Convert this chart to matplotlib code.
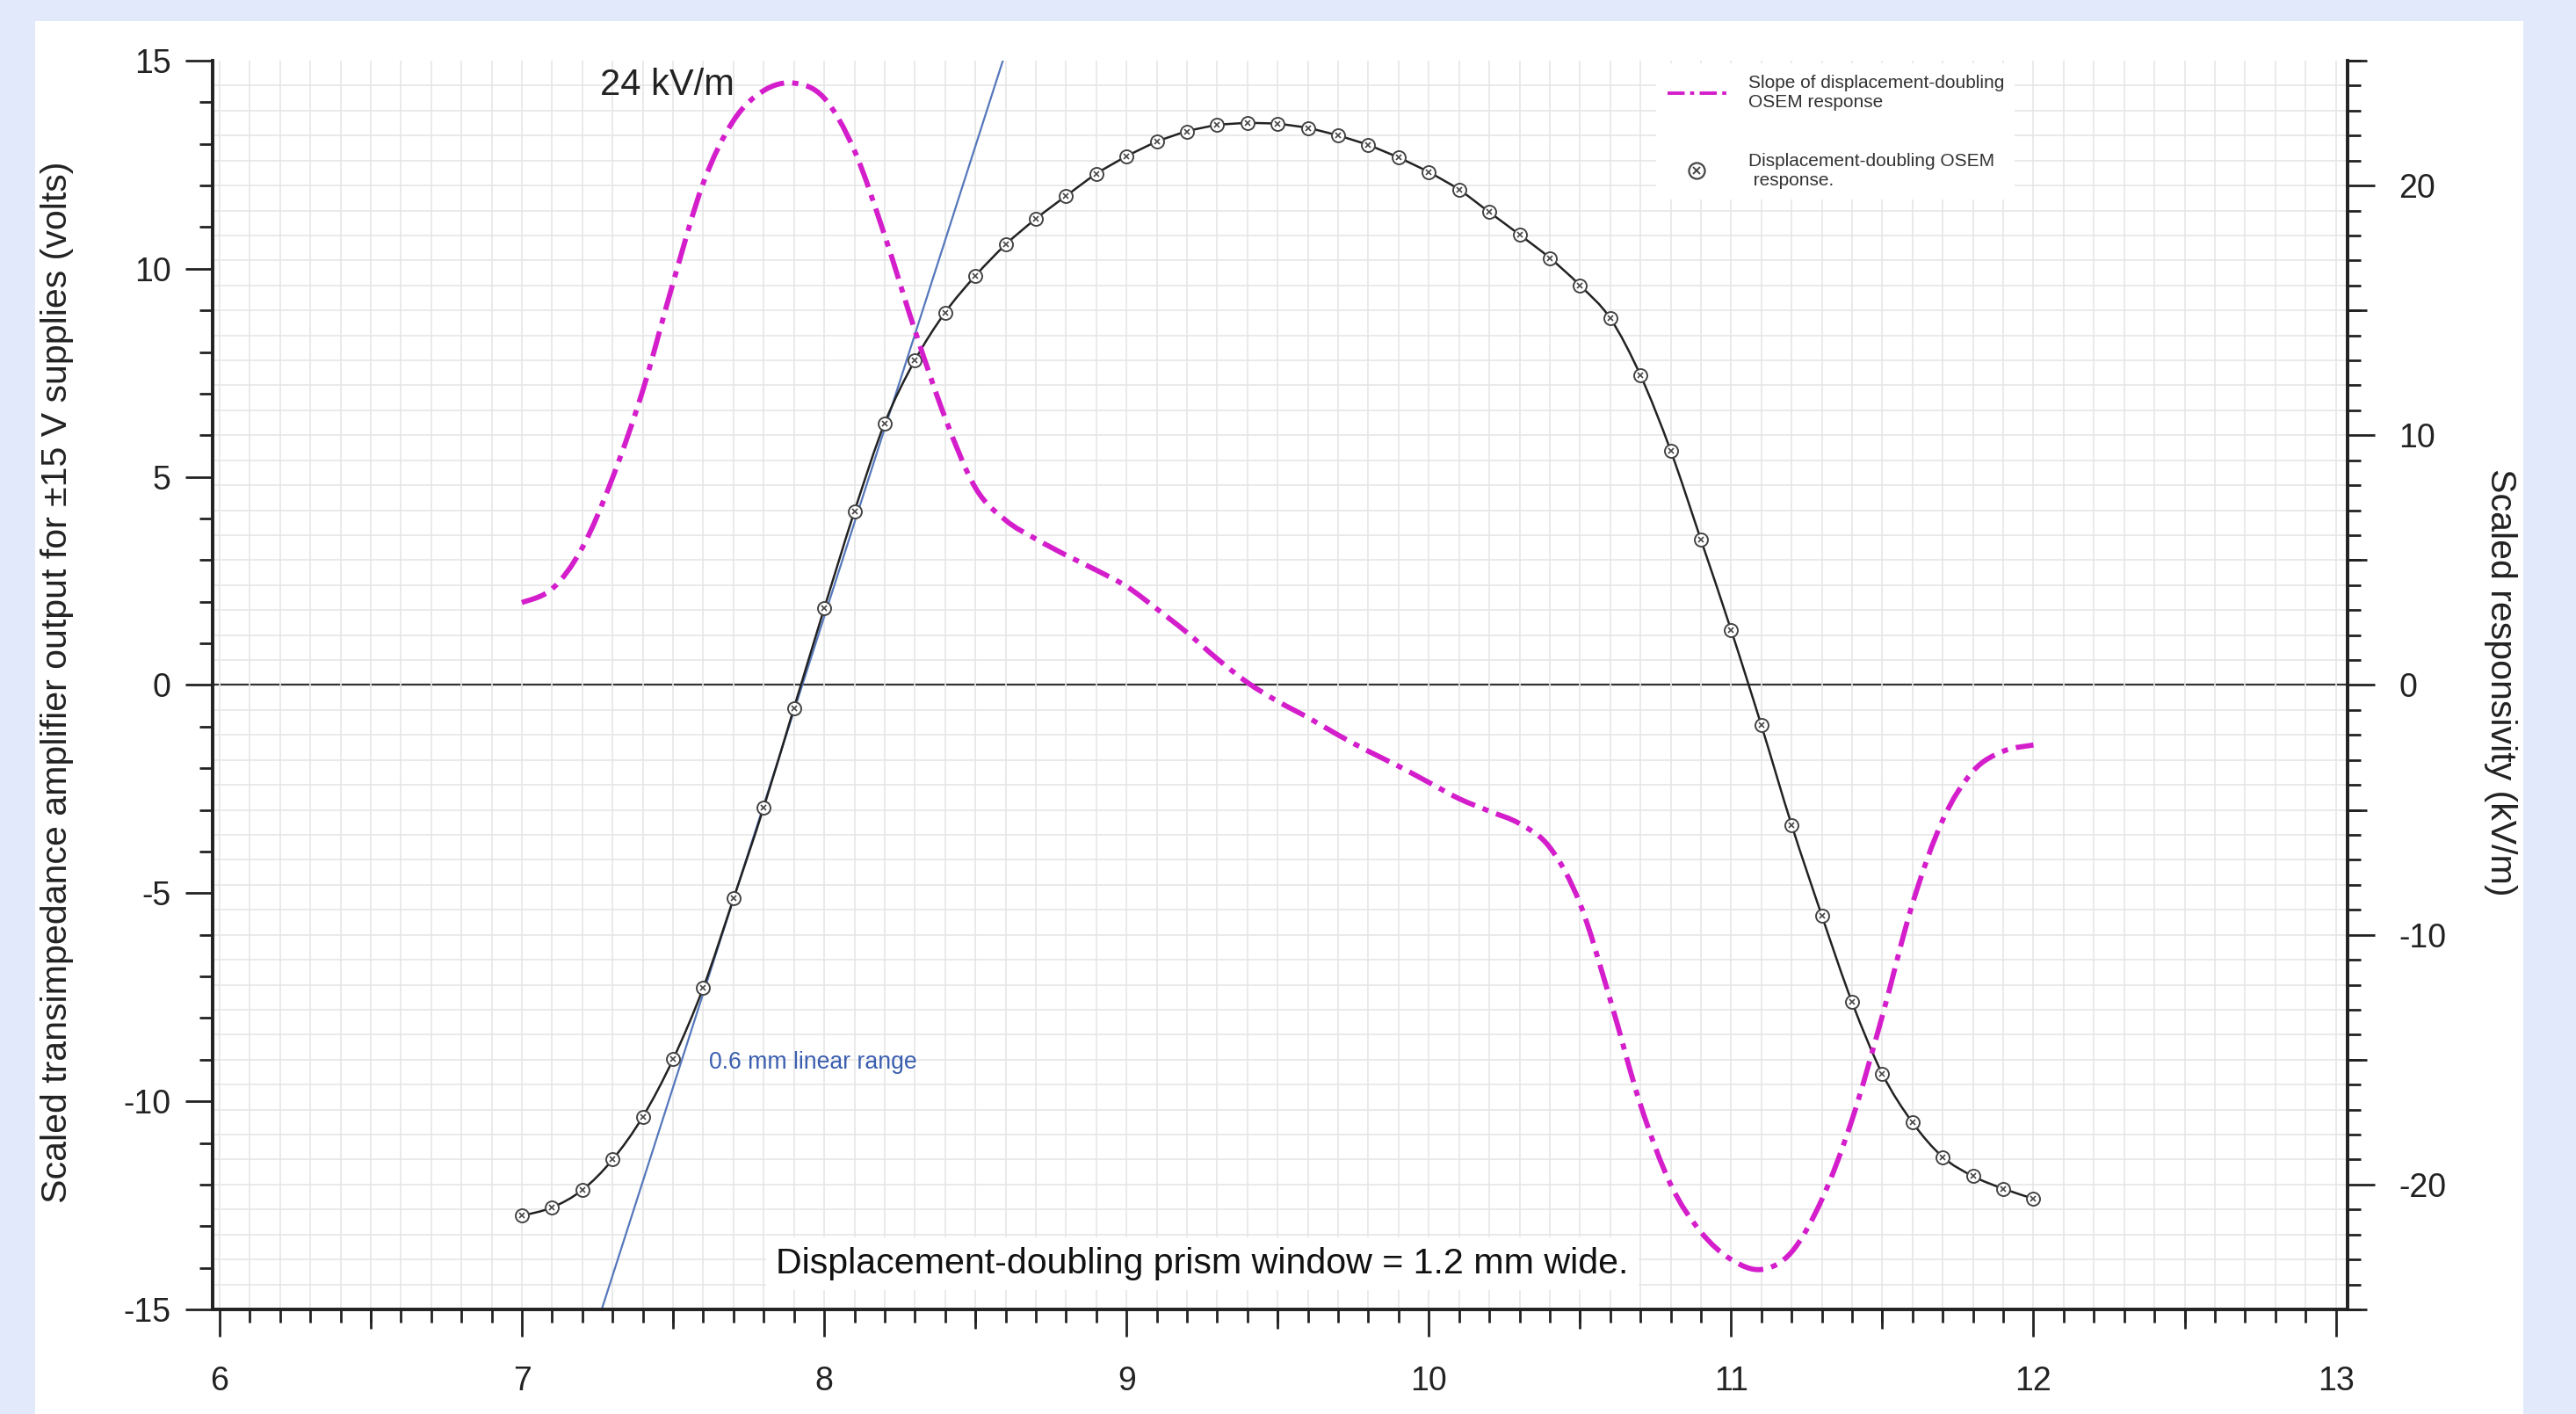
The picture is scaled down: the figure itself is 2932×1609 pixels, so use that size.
import numpy as np
import matplotlib
matplotlib.use("Agg")
import matplotlib.pyplot as plt
from matplotlib.ticker import MultipleLocator, FixedLocator, NullFormatter
from matplotlib.lines import Line2D
from matplotlib.patches import Rectangle, PathPatch
from matplotlib.path import Path
from matplotlib.legend_handler import HandlerTuple

plt.rcParams['font.family'] = ['Liberation Sans', 'DejaVu Sans']
plt.rcParams['axes.unicode_minus'] = False

# displacement (mm) for both series
disp_mm = [7.0, 7.1, 7.2, 7.3, 7.4, 7.5, 7.6, 7.7, 7.8, 7.9,
           8.0, 8.1, 8.2, 8.3, 8.4, 8.5, 8.6, 8.7, 8.8, 8.9,
           9.0, 9.1, 9.2, 9.3, 9.4, 9.5, 9.6, 9.7, 9.8, 9.9,
           10.0, 10.1, 10.2, 10.3, 10.4, 10.5, 10.6, 10.7, 10.8, 10.9,
           11.0, 11.1, 11.2, 11.3, 11.4, 11.5, 11.6, 11.7, 11.8, 11.9, 12.0]

# OSEM response (volts, left axis)
osem_volts = [-12.75, -12.55, -12.13, -11.4, -10.37, -8.99, -7.27, -5.13, -2.94, -0.55,
              1.84, 4.17, 6.29, 7.8, 8.95, 9.83, 10.58, 11.2, 11.75, 12.28,
              12.7, 13.05, 13.3, 13.45, 13.5, 13.48, 13.38, 13.2, 12.97, 12.67,
              12.32, 11.9, 11.36, 10.82, 10.26, 9.6, 8.81, 7.44, 5.63, 3.49,
              1.32, -0.97, -3.36, -5.54, -7.62, -9.34, -10.51, -11.34, -11.8, -12.1, -12.34]

# slope of the response (kV/m, right axis)
slope_kvm = [3.3, 3.85, 5.5, 8.3, 11.8, 16.1, 20.1, 22.6, 23.8, 24.1,
             23.5, 21.4, 18.0, 14.2, 10.7, 7.9, 6.6, 5.85, 5.2, 4.6,
             3.95, 3.05, 2.1, 1.05, 0.1, -0.65, -1.3, -2.0, -2.65, -3.25,
             -3.9, -4.55, -5.05, -5.55, -6.5, -8.75, -12.6, -16.8, -20.0, -21.9,
             -23.0, -23.4, -22.7, -20.6, -17.4, -13.25, -8.75, -5.4, -3.45, -2.65, -2.4]

# 24 kV/m tangent through the linear range
tangent_x = [7.264, 8.591]
tangent_y = [-15.0, 15.0]

x_labels = [6, 7, 8, 9, 10, 11, 12, 13]


def smooth_path(xs, ys):
    # draw through the points with Catmull-Rom style bezier segments
    p = np.column_stack([xs, ys]).astype(float)
    n = len(p)
    verts = [p[0]]
    codes = [Path.MOVETO]
    for i in range(n - 1):
        p0 = p[i - 1] if i > 0 else p[i]
        p1 = p[i]
        p2 = p[i + 1]
        p3 = p[i + 2] if i + 2 < n else p[i + 1]
        verts += [p1 + (p2 - p0) / 6.0, p2 - (p3 - p1) / 6.0, p2]
        codes += [Path.CURVE4] * 3
    return Path(verts, codes)


W, H, dpi = 2932, 1609, 200
fig = plt.figure(figsize=(W / dpi, H / dpi), dpi=dpi, facecolor='#E1E9FB')
# white panel
fig.patches.append(Rectangle((40 / W, 0), (2872 - 40) / W, 1 - 24 / H,
                             transform=fig.transFigure, facecolor='white',
                             edgecolor='none', zorder=-10))

ax = fig.add_axes([242 / W, 1 - 1490 / H, (2672 - 242) / W, (1490 - 69) / H])
ax.set_facecolor('none')
ax2 = ax.twinx()

ax.set_xlim(5.977, 13.039)
ax.set_ylim(-15, 15)
ax2.set_ylim(-25, 25)

gridc = '#e6e6e6'
# vertical grid every 0.1 mm
ax.xaxis.set_major_locator(FixedLocator(x_labels))
ax.xaxis.set_minor_locator(MultipleLocator(0.1))
ax.grid(axis='x', which='both', color=gridc, lw=0.6, zorder=0)
# horizontal grid every 1 kV/m (right axis)
for k in range(-24, 25):
    ax.axhline(k * 15 / 25, color=gridc, lw=0.6, zorder=0)
ax.axhline(0, color='#333333', lw=0.8, zorder=1)

ax.plot(tangent_x, tangent_y, color='#5577bb', lw=0.8, zorder=2)
ax.add_patch(PathPatch(smooth_path(disp_mm, osem_volts), fill=False,
                       edgecolor='#222222', lw=0.9, zorder=3))
ax.plot(disp_mm, osem_volts, ls='none', zorder=4,
        marker='o', ms=5.4, mfc='white', mec='#444444', mew=0.7)
ax.plot(disp_mm, osem_volts, ls='none', marker='x', ms=2.4, mec='#444444',
        mew=0.6, zorder=5)

ax2.add_patch(PathPatch(smooth_path(disp_mm, slope_kvm), fill=False,
                        edgecolor='#D41DCB', lw=2.1,
                        linestyle=(0, (5, 1.6, 1.2, 1.6)), zorder=3))

# spines and ticks
for a in (ax, ax2):
    a.spines['top'].set_visible(False)
    for s in ('left', 'right', 'bottom'):
        a.spines[s].set_linewidth(1.3)
        a.spines[s].set_color('#222222')

ax.yaxis.set_major_locator(MultipleLocator(5))
ax.yaxis.set_minor_locator(MultipleLocator(1))
ax.tick_params(axis='both', which='major', length=11, width=1.0, color='#222222',
               labelsize=13.5, labelcolor='#222222')
ax.tick_params(axis='both', which='minor', length=5.4, width=1.0, color='#222222')
ax.tick_params(axis='y', which='major', pad=6)
ax.tick_params(axis='x', which='major', pad=12)

ax2.yaxis.set_major_locator(FixedLocator([-20, -10, 0, 10, 20]))
ax2.yaxis.set_minor_locator(MultipleLocator(1))
ax2.tick_params(axis='y', which='major', length=11, width=1.0, color='#222222',
                labelsize=13.5, labelcolor='#222222', pad=10)
ax2.tick_params(axis='y', which='minor', length=5.4, width=1.0, color='#222222')

# medium ticks at half units
secx = ax.secondary_xaxis('bottom')
secx.set_xticks(np.arange(6.5, 13, 1.0))
secx.xaxis.set_major_formatter(NullFormatter())
secx.tick_params(length=8, width=1.0, color='#222222')
secx.spines['bottom'].set_visible(False)

secy = ax2.secondary_yaxis('right')
secy.set_yticks([-25, -15, -5, 5, 15, 25])
secy.yaxis.set_major_formatter(NullFormatter())
secy.tick_params(length=8, width=1.0, color='#222222')
secy.spines['right'].set_visible(False)

fig.text(65 / W, 1 - 776 / H,
         'Scaled transimpedance amplifier output for \u00b115 V supplies (volts)',
         rotation=90, ha='center', va='center', fontsize=14.8, color='#222222')
fig.text(2846 / W, 1 - 776 / H, 'Scaled responsivity (kV/m)',
         rotation=270, ha='center', va='center', fontsize=14.8, color='#222222')

ax.text(7.26, 14.41, '24 kV/m', fontsize=15, color='#222222', va='center',
        ha='left', zorder=6)
ax.text(7.62, -9.06, '0.6 mm linear range', fontsize=9.6, color='#3b5fb0',
        va='center', ha='left', zorder=6)
ax.text(7.84, -13.9, 'Displacement-doubling prism window = 1.2 mm wide.',
        fontsize=14.8, color='#111111', va='center', ha='left', zorder=6,
        bbox=dict(facecolor='white', edgecolor='none', pad=4))

h_slope = Line2D([], [], color='#D41DCB', lw=1.4, dashes=(5, 1.6, 1.2, 1.6))
h_circ = Line2D([], [], ls='none', marker='o', ms=6.5, mfc='white',
                mec='#444444', mew=0.8)
h_x = Line2D([], [], ls='none', marker='x', ms=3.2, mec='#444444', mew=0.7)
labels = ['Slope of displacement-doubling\nOSEM response',
          'Displacement-doubling OSEM\n response.']
leg = ax2.legend([h_slope, (h_circ, h_x)], labels, loc='upper left',
                 bbox_to_anchor=(0.672, 1.005),
                 handler_map={tuple: HandlerTuple(ndivide=1, pad=0)},
                 fontsize=7.5, frameon=True, handlelength=3.2, labelspacing=2.3,
                 handletextpad=1.2, borderpad=0.6)
leg.get_frame().set_facecolor('white')
leg.get_frame().set_edgecolor('none')
leg.get_frame().set_alpha(1)
leg.set_zorder(10)
for t in leg.get_texts():
    t.set_color('#333333')

fig.savefig('out.png', dpi=dpi, facecolor=fig.get_facecolor())
